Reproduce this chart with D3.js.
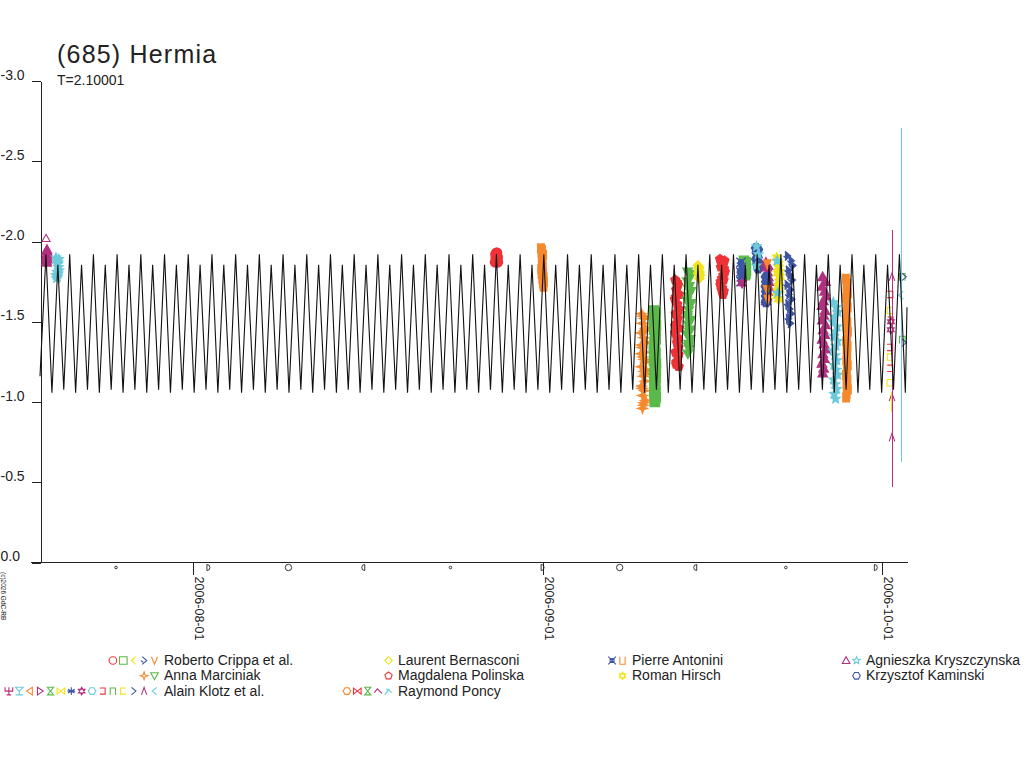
<!DOCTYPE html>
<html>
<head>
<meta charset="utf-8">
<script src="https://cdn.jsdelivr.net/npm/d3@7.9.0/dist/d3.min.js"></script>
<style>
  body { margin: 0; background: #fff; }
  svg { display: block; font-family: "Liberation Sans", Arial, sans-serif; }
</style>
</head>
<body>
<svg id="chart" width="1024" height="768"></svg>
<script>
// ---- data ----
const title = '(685) Hermia';
const periodLabel = 'T=2.10001';
const credit = '(c)2026 GdC-RB';

const magTicks = [-3.0, -2.5, -2.0, -1.5, -1.0, -0.5, 0.0];
const dateTicks = ['2006-08-01', '2006-09-01', '2006-10-01'];
// days counted from 2006-08-01 00:00 UT
const dayRange = [-13.546, 63.22];

const moonDates = ['2006-07-25T04:31Z', '2006-08-02T08:46Z', '2006-08-09T10:54Z', '2006-08-16T01:51Z',
  '2006-08-23T19:10Z', '2006-08-31T22:56Z', '2006-09-07T18:42Z', '2006-09-14T11:15Z',
  '2006-09-22T11:45Z', '2006-09-30T11:04Z'];
const moonPhases = ['new', 'first', 'full', 'last', 'new', 'first', 'full', 'last', 'new', 'first'];

// model lightcurve (maxima and minima)
const modelStart = [-13.546, -1.16];
const modelEnd = [63.22, -1.59];
const modelPeakDays = [-13.015, -11.966, -10.916, -9.867, -8.817, -7.768, -6.718, -5.669, -4.619, -3.570,
  -2.520, -1.471, -0.421, 0.628, 1.678, 2.727, 3.777, 4.826, 5.876, 6.925,
  7.975, 9.024, 10.074, 11.123, 12.173, 13.222, 14.272, 15.321, 16.371, 17.420,
  18.470, 19.519, 20.569, 21.618, 22.668, 23.717, 24.767, 25.816, 26.866, 27.915,
  28.965, 30.014, 31.064, 32.113, 33.163, 34.212, 35.262, 36.311, 37.361, 38.410,
  39.460, 40.509, 41.559, 42.608, 43.658, 44.707, 45.757, 46.806, 47.856, 48.905,
  49.955, 51.004, 52.054, 53.103, 54.153, 55.202, 56.252, 57.301, 58.351, 59.400,
  60.450, 61.499, 62.549];
const modelPeakMags = [-1.92, -1.855, -1.92, -1.855, -1.92, -1.855, -1.92, -1.855, -1.92, -1.855,
  -1.92, -1.855, -1.92, -1.855, -1.92, -1.855, -1.92, -1.855, -1.92, -1.855,
  -1.92, -1.855, -1.92, -1.855, -1.92, -1.855, -1.92, -1.855, -1.92, -1.855,
  -1.92, -1.855, -1.92, -1.855, -1.92, -1.855, -1.92, -1.855, -1.92, -1.855,
  -1.92, -1.855, -1.92, -1.855, -1.92, -1.855, -1.92, -1.855, -1.92, -1.855,
  -1.92, -1.855, -1.92, -1.855, -1.92, -1.855, -1.92, -1.855, -1.92, -1.855,
  -1.92, -1.855, -1.92, -1.855, -1.92, -1.855, -1.92, -1.855, -1.92, -1.855,
  -1.92, -1.855, -1.92];
const modelTroughDays = [-12.490, -11.441, -10.391, -9.342, -8.292, -7.243, -6.193, -5.144, -4.094, -3.045,
  -1.995, -0.946, 0.104, 1.153, 2.203, 3.252, 4.302, 5.351, 6.401, 7.450,
  8.500, 9.549, 10.599, 11.648, 12.698, 13.747, 14.797, 15.846, 16.896, 17.945,
  18.995, 20.044, 21.094, 22.143, 23.193, 24.242, 25.292, 26.341, 27.391, 28.440,
  29.490, 30.539, 31.589, 32.638, 33.688, 34.737, 35.787, 36.836, 37.886, 38.935,
  39.985, 41.034, 42.084, 43.133, 44.183, 45.232, 46.282, 47.331, 48.381, 49.430,
  50.480, 51.529, 52.579, 53.628, 54.678, 55.727, 56.777, 57.826, 58.876, 59.925,
  60.975, 62.024, 63.074];
const modelTroughMags = [-1.058, -1.077, -1.058, -1.077, -1.058, -1.077, -1.058, -1.077, -1.058, -1.077,
  -1.058, -1.077, -1.058, -1.077, -1.058, -1.077, -1.058, -1.077, -1.058, -1.077,
  -1.058, -1.077, -1.058, -1.077, -1.058, -1.077, -1.058, -1.077, -1.058, -1.077,
  -1.058, -1.077, -1.058, -1.077, -1.058, -1.077, -1.058, -1.077, -1.058, -1.077,
  -1.058, -1.077, -1.058, -1.077, -1.058, -1.077, -1.058, -1.077, -1.058, -1.077,
  -1.058, -1.077, -1.058, -1.077, -1.058, -1.077, -1.058, -1.077, -1.058, -1.077,
  -1.058, -1.077, -1.058, -1.077, -1.058, -1.077, -1.058, -1.077, -1.058, -1.077,
  -1.058, -1.077, -1.058];

const observers = ['Roberto Crippa et al.', 'Laurent Bernasconi', 'Pierre Antonini', 'Agnieszka Kryszczynska',
  'Anna Marciniak', 'Magdalena Polinska', 'Roman Hirsch', 'Krzysztof Kaminski',
  'Alain Klotz et al.', 'Raymond Poncy'];
const observerSymbols = [
  ['rc1', 'rc2', 'rc3', 'rc4', 'rc5'],
  ['lb1'],
  ['pa1', 'pa2'],
  ['ak1', 'ak2'],
  ['am1', 'am2'],
  ['mp1'],
  ['rh1'],
  ['kk1'],
  ['kl1', 'kl2', 'kl3', 'kl4', 'kl5', 'kl6', 'kl7', 'kl8', 'kl9', 'kl10', 'kl11', 'kl12', 'kl13', 'kl14', 'kl15'],
  ['rp1', 'rp2', 'rp3', 'rp4', 'rp5']
];

// observations: [day, mag]
const akJul19 = [[-12.98, -1.88], [-12.95, -1.90], [-12.92, -1.92], [-12.94, -1.94], [-12.90, -1.93],
  [-12.93, -1.91], [-12.91, -1.89], [-12.96, -1.87], [-12.93, -1.95]];
const akJul19Top = [[-13.01, -2.02]];
const akJul19b = [[-12.13, -1.90], [-12.05, -1.88], [-11.97, -1.86], [-11.90, -1.84], [-11.86, -1.82],
  [-11.92, -1.80], [-12.00, -1.78], [-12.08, -1.77], [-12.12, -1.79], [-12.02, -1.81], [-11.95, -1.87], [-11.88, -1.89]];
const rcAug27 = [[26.74, -1.87], [26.80, -1.90], [26.86, -1.93], [26.92, -1.93], [26.98, -1.90],
  [27.00, -1.87], [26.88, -1.88], [26.78, -1.92], [26.94, -1.91]];
const paAug31 = [[30.81, -1.96], [30.85, -1.93], [30.89, -1.90], [30.93, -1.87], [30.97, -1.84], [31.01, -1.81],
  [31.05, -1.78], [31.08, -1.75], [31.04, -1.72], [30.98, -1.74], [30.92, -1.77], [30.86, -1.80],
  [30.83, -1.83], [30.88, -1.86], [30.95, -1.89], [31.00, -1.92], [30.90, -1.95]];
const amSep9 = [[39.70, -1.55], [39.95, -1.52], [39.78, -1.49], [40.05, -1.46], [39.66, -1.43], [39.90, -1.40],
  [40.10, -1.37], [39.74, -1.34], [39.98, -1.31], [39.82, -1.28], [40.08, -1.25], [39.68, -1.22],
  [39.93, -1.19], [39.86, -1.16], [40.02, -1.13], [39.72, -1.10], [39.96, -1.07], [39.80, -1.04],
  [40.06, -1.01], [39.88, -0.98], [39.84, -1.535], [40.00, -1.445], [39.70, -1.355], [39.92, -1.265],
  [40.04, -1.175], [39.76, -1.085], [39.90, -0.995], [39.80, -0.96], [40.10, -1.20], [39.66, -1.30]];
const rcSep10 = [[40.81, -1.57], [40.95, -1.54], [40.86, -1.51], [40.99, -1.48], [40.83, -1.45], [40.92, -1.42],
  [40.97, -1.39], [40.88, -1.36], [40.81, -1.33], [40.94, -1.30], [40.85, -1.27], [40.99, -1.24],
  [40.90, -1.21], [40.82, -1.18], [40.96, -1.15], [40.87, -1.12], [40.93, -1.09], [40.84, -1.06],
  [40.98, -1.03], [40.90, -1.00], [40.90, -1.555], [40.84, -1.495], [40.96, -1.435], [40.88, -1.375],
  [40.92, -1.315], [40.82, -1.255], [40.98, -1.195], [40.86, -1.135], [40.94, -1.075], [40.89, -1.015]];
const mpSep12 = [[42.70, -1.76], [42.95, -1.73], [42.78, -1.70], [43.03, -1.67], [42.67, -1.64], [42.88, -1.61],
  [43.00, -1.58], [42.74, -1.55], [42.92, -1.52], [42.82, -1.49], [43.02, -1.46], [42.69, -1.43],
  [42.90, -1.40], [42.85, -1.37], [42.98, -1.34], [42.72, -1.31], [42.94, -1.28], [42.80, -1.25],
  [43.01, -1.22], [42.85, -1.745], [42.75, -1.655], [42.97, -1.565], [42.70, -1.475], [42.90, -1.385],
  [43.00, -1.295], [42.78, -1.235]];
const amSep13 = [[43.80, -1.81], [44.05, -1.78], [43.76, -1.75], [43.95, -1.72], [44.09, -1.69], [43.86, -1.66],
  [43.74, -1.63], [44.00, -1.60], [43.90, -1.57], [43.78, -1.54], [44.07, -1.51], [43.84, -1.48],
  [43.97, -1.45], [43.75, -1.42], [44.02, -1.39], [43.88, -1.36], [43.93, -1.33], [43.82, -1.30],
  [43.92, -1.795], [43.84, -1.705], [44.04, -1.615], [43.78, -1.525], [43.96, -1.435], [43.86, -1.345]];
const lbSep14 = [[44.71, -1.85], [44.78, -1.83], [44.85, -1.81], [44.89, -1.79], [44.82, -1.77], [44.74, -1.80], [44.80, -1.84]];
const mpSep16 = [[46.66, -1.89], [46.78, -1.87], [46.90, -1.85], [47.02, -1.83], [47.10, -1.81], [46.96, -1.79],
  [46.84, -1.77], [46.72, -1.75], [46.70, -1.73], [46.86, -1.71], [47.00, -1.69], [46.92, -1.67],
  [47.06, -1.88], [46.74, -1.84], [46.98, -1.76], [46.80, -1.70]];
const rcSep18 = [[48.78, -1.88], [48.84, -1.86], [48.90, -1.84], [48.96, -1.82], [48.92, -1.80], [48.86, -1.79], [48.80, -1.83], [48.94, -1.87]];
const paSep18 = [[48.52, -1.87], [48.56, -1.84], [48.50, -1.81], [48.55, -1.78], [48.52, -1.75], [48.58, -1.80]];
const klSep18 = [[48.62, -1.74]];
const kkSep19 = [[49.85, -1.96], [49.92, -1.93], [49.99, -1.90], [50.06, -1.87], [50.11, -1.84], [50.04, -1.83],
  [49.95, -1.86], [49.88, -1.89], [50.02, -1.95]];
const akSep19 = [[49.90, -1.97], [50.05, -1.92], [49.88, -1.85]];
const akSep20 = [[50.73, -1.87], [50.80, -1.84], [50.87, -1.81], [50.94, -1.78], [51.00, -1.75], [50.95, -1.72],
  [50.88, -1.69], [50.81, -1.66], [50.75, -1.63], [50.84, -1.76], [50.92, -1.85], [50.78, -1.71]];
const kkSep20 = [[50.73, -1.78], [50.76, -1.75], [50.72, -1.72], [50.77, -1.69], [50.74, -1.66], [50.76, -1.63], [50.73, -1.62]];
const rcSep20 = [[50.85, -1.86], [50.82, -1.70], [50.88, -1.64]];
const rhSep21 = [[51.70, -1.90], [51.78, -1.87], [51.86, -1.84], [51.94, -1.81], [51.97, -1.78], [51.90, -1.75],
  [51.82, -1.72], [51.74, -1.69], [51.72, -1.66], [51.84, -1.64], [51.96, -1.70], [51.88, -1.86], [51.76, -1.80]];
const akSep21 = [[51.72, -1.88], [51.78, -1.68]];
const rcSep22 = [[52.62, -1.91], [52.95, -1.88], [53.10, -1.85], [52.70, -1.82], [52.85, -1.79], [53.05, -1.76],
  [52.60, -1.73], [52.90, -1.70], [52.75, -1.67], [53.00, -1.64], [52.66, -1.61], [52.82, -1.58],
  [52.95, -1.55], [52.72, -1.52], [52.88, -1.49]];
const akSep25 = [[55.75, -1.78], [56.00, -1.75], [55.70, -1.72], [55.92, -1.69], [56.04, -1.66], [55.82, -1.63],
  [55.69, -1.60], [55.96, -1.57], [55.86, -1.54], [55.73, -1.51], [56.02, -1.48], [55.80, -1.45],
  [55.94, -1.42], [55.71, -1.39], [55.88, -1.36], [56.00, -1.33], [55.78, -1.30], [55.90, -1.27],
  [55.69, -1.24], [55.84, -1.21], [55.76, -1.18]];
const akSep26 = [[56.70, -1.62], [56.95, -1.59], [57.10, -1.56], [56.80, -1.53], [56.66, -1.50], [57.02, -1.47],
  [56.88, -1.44], [56.74, -1.41], [57.06, -1.38], [56.92, -1.35], [56.68, -1.32], [56.84, -1.29],
  [57.00, -1.26], [56.76, -1.23], [56.96, -1.20], [57.08, -1.17], [56.72, -1.14], [56.86, -1.11],
  [56.98, -1.08], [56.78, -1.05], [56.90, -1.02]];
const paSep27 = [[57.81, -1.77], [57.95, -1.74], [57.86, -1.71], [57.99, -1.68], [57.83, -1.65], [57.92, -1.62],
  [57.97, -1.59], [57.88, -1.56], [57.81, -1.53], [57.94, -1.50], [57.85, -1.47], [57.99, -1.44],
  [57.90, -1.41], [57.82, -1.38], [57.96, -1.35], [57.87, -1.32], [57.93, -1.29], [57.84, -1.26],
  [57.98, -1.23], [57.90, -1.20], [57.81, -1.17], [57.95, -1.14], [57.86, -1.11], [57.99, -1.08],
  [57.88, -1.05], [57.83, -1.03]];
const klOct1Yellow = [[61.71, -1.57], [61.73, -1.28], [61.70, -1.12]];
const klOct1Red = [[61.72, -1.67], [61.70, -1.34], [61.74, -1.51], [61.71, -1.21]];
const klOct1Magenta = [[61.89, -1.78], [61.89, -1.03], [61.89, -0.78]];
const klOct1Star = [[61.80, -1.50], [61.78, -1.45]];
const klOct2Green = [[62.80, -1.78], [62.80, -1.39]];
const klOct2Blue = [[62.95, -1.78], [62.95, -1.37]];
const klOct2Cyan = [[62.68, -1.665]];

const sessionSymbols = ['ak1', 'ak1', 'ak2', 'rc1', 'pa2', 'am1', 'rc2', 'mp1', 'am2', 'lb1', 'mp1', 'rc2', 'pa1', 'kl8',
  'kk1', 'ak2', 'ak1', 'kk1', 'rc5', 'rh1', 'ak2', 'rc4', 'ak1', 'ak2', 'pa2',
  'kl12', 'kl10', 'kl14', 'kl8', 'kl11', 'kl13', 'kl15'];
const sessionPoints = [akJul19, akJul19Top, akJul19b, rcAug27, paAug31, amSep9, rcSep10, mpSep12, amSep13, lbSep14, mpSep16,
  rcSep18, paSep18, klSep18, kkSep19, akSep19, akSep20, kkSep20, rcSep20, rhSep21, akSep21, rcSep22,
  akSep25, akSep26, paSep27, klOct1Yellow, klOct1Red, klOct1Magenta, klOct1Star, klOct2Green, klOct2Blue, klOct2Cyan];
// sessions drawn as single outlined marks rather than dense runs
const sparseSessions = [1, 25, 26, 27, 28, 29, 30, 31];

// error bars of single measurements
const errDays = [61.89, 62.68, 61.80];
const errMags = [-1.27, -1.665, -1.00];
const errSizes = [0.80, 1.04, 0.06];
const errSymbols = ['kl14', 'kl15', 'kl12'];

// ---- styles ----
const palette = {
  red: '#ee3338', orange: '#f6892e', yellow: '#f0e41c', green: '#5bb94a',
  blue: '#3e55a3', magenta: '#b2317f', cyan: '#6bcbdb'
};
const symbolStyle = {
  rc1: ['circle', 'red'], rc2: ['square', 'green'], rc3: ['lchev', 'yellow'], rc4: ['rchev', 'blue'], rc5: ['vee', 'orange'],
  lb1: ['diamond', 'yellow'],
  pa1: ['boxx', 'blue'], pa2: ['cup', 'orange'],
  ak1: ['triup', 'magenta'], ak2: ['star5', 'cyan'],
  am1: ['star4', 'orange'], am2: ['tridown', 'green'],
  mp1: ['pentagon', 'red'],
  rh1: ['star6', 'yellow'],
  kk1: ['hexagon', 'blue'],
  kl1: ['trident', 'magenta'], kl2: ['funnel', 'cyan'], kl3: ['triL', 'orange'], kl4: ['triR', 'magenta'],
  kl5: ['hourglass', 'green'], kl6: ['bowtie', 'yellow'], kl7: ['asterisk', 'blue'], kl8: ['star6', 'magenta'],
  kl9: ['hexagon', 'cyan'], kl10: ['bracketR', 'red'], kl11: ['cap', 'green'], kl12: ['bracketL', 'yellow'],
  kl13: ['gt', 'blue'], kl14: ['lambda', 'magenta'], kl15: ['lt', 'cyan'],
  rp1: ['hexagon', 'orange'], rp2: ['bowtie', 'red'], rp3: ['hourglass', 'green'], rp4: ['chevup', 'magenta'], rp5: ['cross', 'cyan']
};

function poly(pts, closed = true) {
  return 'M' + pts.map((p) => p[0].toFixed(2) + ',' + p[1].toFixed(2)).join('L') + (closed ? 'Z' : '');
}
function ring(n, r, rot) {
  return d3.range(n).map((i) => {
    const a = rot + i * 2 * Math.PI / n;
    return [r * Math.sin(a), -r * Math.cos(a)];
  });
}
function starRing(n, r, ri) {
  return d3.range(2 * n).map((i) => {
    const a = i * Math.PI / n;
    const rr = i % 2 ? ri : r;
    return [rr * Math.sin(a), -rr * Math.cos(a)];
  });
}

const shapes = {
  circle: (r) => `M${r},0A${r},${r} 0 1,1 ${-r},0A${r},${r} 0 1,1 ${r},0Z`,
  square: (r) => poly([[-r, -r], [r, -r], [r, r], [-r, r]]),
  lchev: (r) => poly([[r * 0.5, -r], [-r * 0.6, 0], [r * 0.5, r]], false) + `M${-r * 0.6},0L${r * 0.2},${-r * 0.5}`,
  rchev: (r) => poly([[-r * 0.5, -r], [r * 0.7, 0], [-r * 0.5, r]], false) + `M${-r * 0.8},0L${-r * 0.2},${r * 0.5}`,
  vee: (r) => poly([[-r * 0.8, -r], [0, r], [r * 0.8, -r]], false),
  diamond: (r) => poly([[0, -r], [r, 0], [0, r], [-r, 0]]),
  boxx: (r) => poly([[-r * 0.5, -r * 0.5], [r * 0.5, -r * 0.5], [r * 0.5, r * 0.5], [-r * 0.5, r * 0.5]]) +
    `M${-r},${-r}L${r},${r}M${r},${-r}L${-r},${r}`,
  cup: (r) => poly([[-r * 0.7, -r], [-r * 0.7, r], [r * 0.7, r], [r * 0.7, -r]], false),
  triup: (r) => poly([[0, -r], [r, r * 0.8], [-r, r * 0.8]]),
  tridown: (r) => poly([[-r, -r * 0.8], [r, -r * 0.8], [0, r]]),
  triL: (r) => poly([[r * 0.7, -r], [r * 0.7, r], [-r * 0.8, 0]]),
  triR: (r) => poly([[-r * 0.7, -r], [-r * 0.7, r], [r * 0.8, 0]]),
  star4: (r) => poly(starRing(4, r, r * 0.35)),
  star5: (r) => poly(starRing(5, r, r * 0.45)),
  star6: (r) => poly(ring(3, r, 0)) + poly(ring(3, r, Math.PI)),
  pentagon: (r) => poly(ring(5, r, 0)),
  hexagon: (r) => poly(ring(6, r, Math.PI / 6)),
  trident: (r) => `M${-r},${-r}L${-r},0L${r},0L${r},${-r}M0,${-r}L0,${r}M${-r * 0.6},${r}L${r * 0.6},${r}`,
  funnel: (r) => poly([[-r, -r], [r, -r], [0, 0]]) + `M0,0L0,${r}M${-r},${r}L${r},${r}`,
  hourglass: (r) => poly([[-r * 0.8, -r], [r * 0.8, -r], [-r * 0.8, r], [r * 0.8, r]]),
  bowtie: (r) => poly([[-r, -r * 0.8], [r, r * 0.8], [r, -r * 0.8], [-r, r * 0.8]]),
  asterisk: (r) => `M0,${-r}L0,${r}M${-r * 0.87},${-r / 2}L${r * 0.87},${r / 2}M${-r * 0.87},${r / 2}L${r * 0.87},${-r / 2}` +
    `M${-r},0L${r},0`,
  bracketR: (r) => poly([[-r * 0.7, -r * 0.8], [r * 0.7, -r * 0.8], [r * 0.7, r * 0.8], [-r * 0.7, r * 0.8]], false),
  cap: (r) => poly([[-r * 0.7, r], [-r * 0.7, -r * 0.8], [r * 0.7, -r * 0.8], [r * 0.7, r]], false),
  bracketL: (r) => poly([[r * 0.7, -r * 0.8], [-r * 0.7, -r * 0.8], [-r * 0.7, r * 0.8], [r * 0.7, r * 0.8]], false),
  gt: (r) => poly([[-r * 0.6, -r], [r * 0.6, 0], [-r * 0.6, r]], false),
  lt: (r) => poly([[r * 0.6, -r], [-r * 0.6, 0], [r * 0.6, r]], false),
  lambda: (r) => poly([[-r * 0.7, r], [0, -r], [r * 0.7, r]], false),
  chevup: (r) => poly([[-r, r * 0.4], [-r * 0.2, -r * 0.6], [r, r * 0.6]], false),
  cross: (r) => `M${-r},${r}L${r * 0.2},${-r * 0.6}M${-r * 0.6},${-r * 0.6}L${r},${r * 0.4}`
};

// ---- chart ----
const svg = d3.select('#chart');
const ink = '#222';

function dayToDate(d) {
  return new Date(Date.UTC(2006, 7, 1) + d * 864e5);
}

const x = d3.scaleUtc()
  .domain([dayToDate(dayRange[0]), dayToDate(dayRange[1])])
  .range([40, 907]);
const y = d3.scaleLinear()
  .domain([0, -3])
  .range([562.5, 81]);

svg.append('text')
  .attr('x', 57).attr('y', 63)
  .attr('font-size', 25).attr('letter-spacing', 1.2)
  .attr('fill', ink)
  .text(title);

svg.append('text')
  .attr('x', 57).attr('y', 85)
  .attr('font-size', 14)
  .attr('fill', ink)
  .text(periodLabel);

// y axis
const yAxis = svg.append('g')
  .attr('transform', 'translate(40.5,0)')
  .call(d3.axisLeft(y).tickValues(magTicks).tickSize(9).tickSizeOuter(0).tickFormat((d) => d.toFixed(1)));
yAxis.attr('font-size', null).attr('font-family', null).attr('color', ink).attr('shape-rendering', 'crispEdges');
yAxis.selectAll('text')
  .attr('text-anchor', 'start')
  .attr('x', -40)
  .attr('dy', -2)
  .attr('font-size', 14);

// x axis
svg.append('line')
  .attr('x1', 31).attr('x2', 908)
  .attr('y1', 562.5).attr('y2', 562.5)
  .attr('stroke', ink)
  .attr('shape-rendering', 'crispEdges');

const xAxis = svg.append('g')
  .attr('transform', 'translate(0,562.5)')
  .call(d3.axisBottom(x).tickValues(dateTicks.map((d) => new Date(d + 'T00:00Z'))).tickSize(12)
    .tickFormat(d3.utcFormat('%Y-%m-%d')));
xAxis.select('.domain').remove();
xAxis.attr('font-size', null).attr('font-family', null).attr('color', ink).attr('shape-rendering', 'crispEdges');
xAxis.selectAll('text')
  .attr('x', 0).attr('y', 0).attr('dy', 0)
  .attr('text-anchor', 'start')
  .attr('transform', 'translate(1.5,14) rotate(90)')
  .attr('font-size', 12.5);

// moon phases under the axis
const moonG = svg.append('g')
  .attr('fill', 'none').attr('stroke', ink).attr('stroke-width', 0.9);
moonDates.forEach((d, i) => {
  const cx = x(new Date(d));
  const phase = moonPhases[i];
  let path;
  if (phase === 'new') path = shapes.circle(1.3);
  else if (phase === 'full') path = shapes.circle(3.2);
  else if (phase === 'first') path = 'M-1.5,-3L-1.5,3A3,3 0 0,0 -1.5,-3Z';
  else path = 'M1.5,-3L1.5,3A3,3 0 0,1 1.5,-3Z';
  moonG.append('path')
    .attr('transform', `translate(${cx},567.5)`)
    .attr('d', path);
});

svg.append('text')
  .attr('transform', 'translate(1,572) rotate(90)')
  .attr('font-size', 6.5)
  .attr('fill', ink)
  .text(credit);

// observations
function drawSymbol(sel, id, r, filled) {
  const [shape, color] = symbolStyle[id];
  sel.attr('d', shapes[shape](r))
    .attr('fill', filled ? palette[color] : 'none')
    .attr('stroke', palette[color])
    .attr('stroke-width', filled ? 1.4 : 1.1);
}

const obsG = svg.append('g');
sessionPoints.forEach((pts, i) => {
  const dense = !sparseSessions.includes(i);
  obsG.append('g')
    .selectAll('path')
    .data(pts)
    .join('path')
    .attr('transform', (d) => `translate(${x(dayToDate(d[0]))},${y(d[1])})`)
    .call(drawSymbol, sessionSymbols[i], dense ? 4.6 : 4, dense);
});

// error bars
errDays.forEach((d, i) => {
  const cx = Math.round(x(dayToDate(d))) + 0.5;
  svg.append('line')
    .attr('x1', cx).attr('x2', cx)
    .attr('y1', y(errMags[i] - errSizes[i]))
    .attr('y2', y(errMags[i] + errSizes[i]))
    .attr('stroke', palette[symbolStyle[errSymbols[i]][1]])
    .attr('stroke-width', 1)
    .attr('shape-rendering', 'crispEdges');
});

// model curve drawn over the data
const modelPoints = [modelStart];
modelPeakDays.forEach((d, i) => {
  modelPoints.push([d, modelPeakMags[i]]);
  modelPoints.push([modelTroughDays[i], modelTroughMags[i]]);
});
modelPoints.push(modelEnd);

const line = d3.line()
  .x((d) => x(dayToDate(d[0])))
  .y((d) => y(d[1]));

svg.append('path')
  .datum(modelPoints)
  .attr('d', line)
  .attr('fill', 'none')
  .attr('stroke', '#111')
  .attr('stroke-width', 1.1);

// legend
const legend = svg.append('g');
observers.forEach((name, i) => {
  const col = i % 4;
  const row = Math.floor(i / 4);
  const nameX = 164 + 234 * col;
  const base = 665 + 15.3 * row;
  legend.append('text')
    .attr('x', nameX).attr('y', base)
    .attr('font-size', 14)
    .attr('fill', ink)
    .text(name);
  const syms = observerSymbols[i];
  syms.forEach((id, j) => {
    legend.append('path')
      .attr('transform', `translate(${nameX - 9.5 - 10.4 * (syms.length - 1 - j)},${base - 4.5})`)
      .call(drawSymbol, id, 3.8, false);
  });
});
</script>
</body>
</html>
